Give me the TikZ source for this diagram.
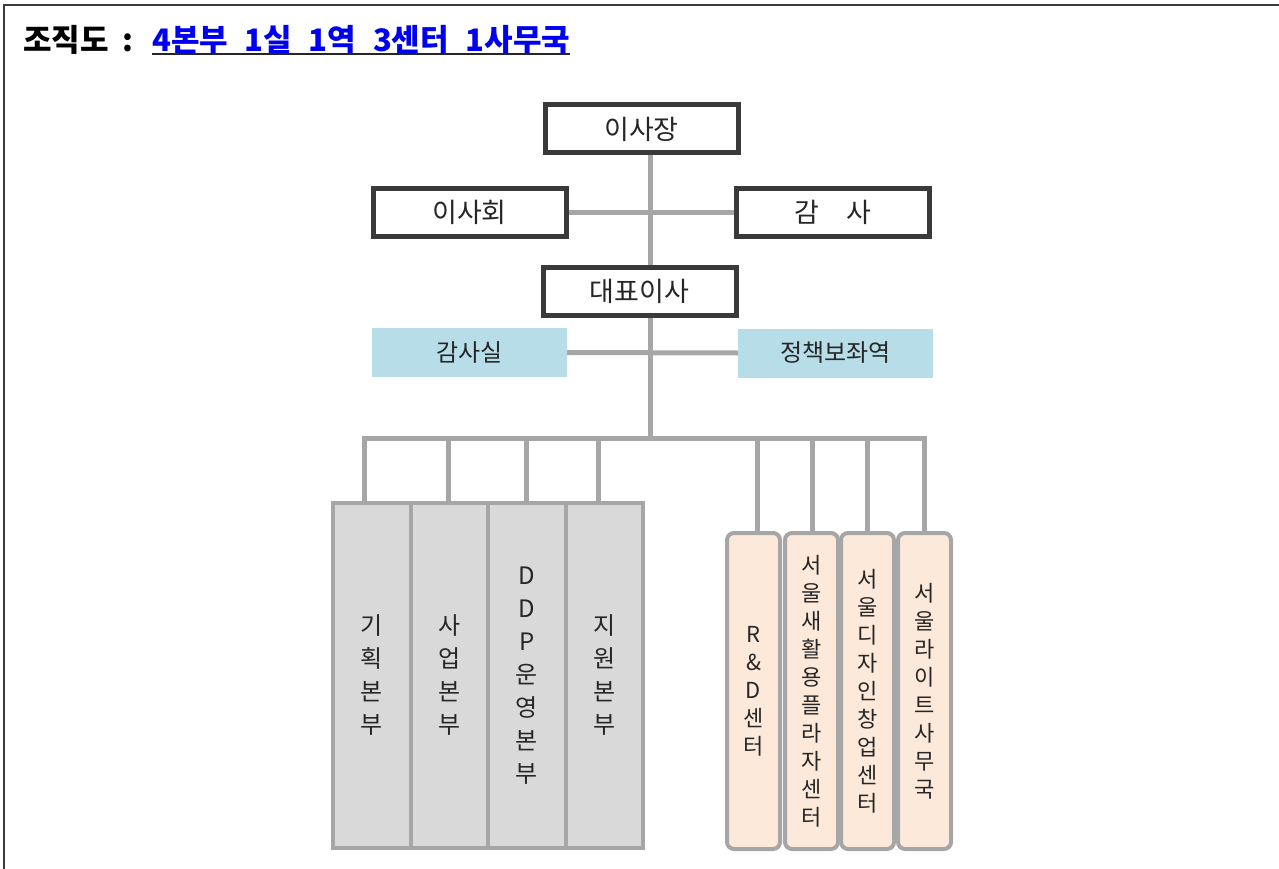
\documentclass[tikz,border=0pt]{standalone}
\usepackage{fontspec}
\setmainfont{Noto Sans CJK KR}
\definecolor{linegray}{HTML}{A6A6A6}
\definecolor{boxdark}{HTML}{3A3A3A}
\definecolor{lightblue}{HTML}{B7DDE8}
\definecolor{cellgray}{HTML}{D9D9D9}
\definecolor{peach}{HTML}{FDE9D9}
\definecolor{titleblue}{HTML}{0000F0}
\begin{document}
\begin{tikzpicture}[x=1pt,y=-1pt,
		conn/.style={draw=linegray, line width=5pt},
		topbox/.style={draw=boxdark, line width=5pt, fill=white, minimum width=193pt, minimum height=48pt, font=\fontsize{27}{30}\selectfont, text=black!85},
		bluebox/.style={fill=lightblue, minimum width=195pt, minimum height=49pt, font=\fontsize{24}{28}\selectfont, text=black!85},
		graybox/.style={draw=linegray, line width=4pt, fill=cellgray, minimum width=77.5pt, minimum height=345pt, align=center, font=\fontsize{24}{33}\selectfont, text=black!85},
		peachbox/.style={draw=linegray, line width=4pt, fill=peach, rounded corners=7pt, minimum width=53pt, minimum height=316pt, align=center, font=\fontsize{22}{28}\selectfont, text=black!85}]
	\useasboundingbox (0,0) rectangle (1279,869);
	\draw[boxdark, line width=2pt] (4,869) -- (4,5) -- (1279,5);

	\node[anchor=base west, inner sep=0, font=\fontsize{31}{34}\selectfont\bfseries] (ttl) at (23,52) {조직도\hspace{.45em}:};
	\node[anchor=base west, inner sep=0, font=\fontsize{31}{34}\selectfont\bfseries, text=titleblue] (sub) at (152,52) {4본부\hspace{.54em}1실\hspace{.54em}1역\hspace{.54em}3센터\hspace{.54em}1사무국};
	\draw[black!85, line width=1.5pt] ([yshift=-2pt]sub.base west) -- ([yshift=-2pt]sub.base east);

	\node[topbox] (chair) at (641.5,129) {이사장};
	\node[topbox] (board) at (469.5,212.5) {이사회};
	\node[topbox] (audit) at (832.5,212.5) {감\hspace{1em}사};
	\node[topbox] (ceo) at (639.5,291.5) {대표이사};
	\node[bluebox] (auditoff) at (469.5,352.5) {감사실};
	\node[bluebox] (policy) at (835.5,353) {정책보좌역};
	\coordinate (hub) at (650,438);

	\draw[conn] (chair.south -| hub) -- (ceo.north -| hub);
	\draw[conn] (ceo.south -| hub) -- (hub);
	\draw[conn] (board.east) -- (audit.west);
	\draw[conn] (auditoff.east) -- (policy.west);

	\foreach \n/\x/\o/\t in {plan/371.75/-7/{기\\획\\본\\부}, biz/449.25/-1/{사\\업\\본\\부}, ddp/526.75/0/{D\\D\\P\\운\\영\\본\\부}, supp/604.25/-6/{지\\원\\본\\부}}{
		\node[graybox] (\n) at (\x,675.5) {\t};
		\draw[conn] ([xshift=\o pt]\n.north) |- (hub);
	}
	\foreach \n/\x/\o/\t in {rnd/753.5/4/{R\\\&\\D\\센\\터}, upcycle/811.5/1/{서\\울\\새\\활\\용\\플\\라\\자\\센\\터}, startup/867.5/0/{서\\울\\디\\자\\인\\창\\업\\센\\터}, light/924.5/0/{서\\울\\라\\이\\트\\사\\무\\국}}{
		\node[peachbox] (\n) at (\x,691) {\t};
		\draw[conn] ([xshift=\o pt]\n.north) |- (hub);
	}
\end{tikzpicture}
\end{document}
